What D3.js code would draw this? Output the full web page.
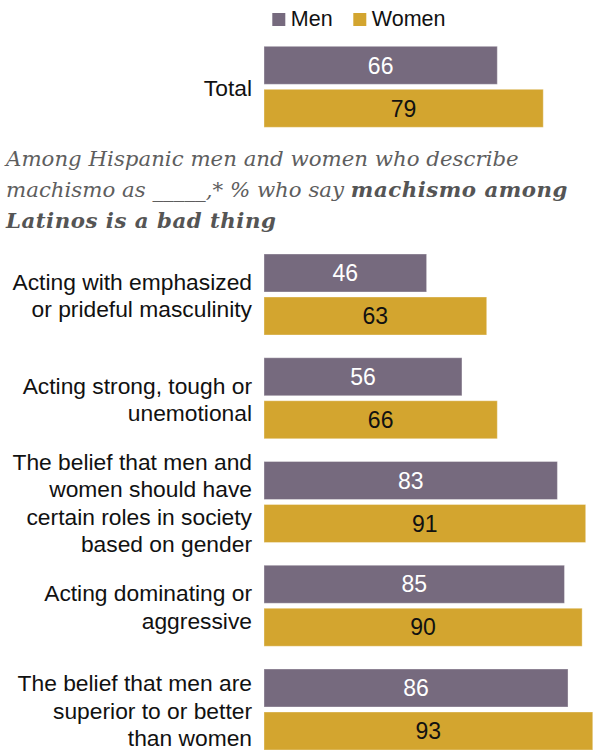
<!DOCTYPE html>
<html>
<head>
<meta charset="utf-8">
<script src="https://cdn.jsdelivr.net/npm/d3@7"></script>
<style>
  html, body { margin: 0; padding: 0; background: #fff; }
  svg { display: block; }
</style>
</head>
<body>
<svg id="chart" width="596" height="751"></svg>
<script>
// Series and categories
const seriesNames = ["Men", "Women"];
const seriesColors = ["#766a7e", "#d3a52f"];
const valueColors = ["#ffffff", "#111111"];

const totalLabel = ["Total"];
const totalValues = [66, 79];

const categoryLabels = [
  ["Acting with emphasized", "or prideful masculinity"],
  ["Acting strong, tough or", "unemotional"],
  ["The belief that men and", "women should have", "certain roles in society", "based on gender"],
  ["Acting dominating or", "aggressive"],
  ["The belief that men are", "superior to or better", "than women"]
];
const menValues = [46, 56, 83, 85, 86];
const womenValues = [63, 66, 91, 90, 93];

const W = 596, H = 751;
const svg = d3.select("#chart");
const sans = "'Liberation Sans', Arial, Helvetica, sans-serif";
const serif = "'DejaVu Serif', Georgia, serif";

// Horizontal value scale
const x = d3.scaleLinear().domain([0, 100]).range([264, 617.5]);

// Vertical layout: one band per category, two bars inside each band
const groupStep = 103.75;
const groupH = 81;
const nCat = categoryLabels.length;
const yCat = d3.scaleBand()
  .domain(d3.range(nCat))
  .range([254, 254 + groupStep * (nCat - 1) + groupH])
  .paddingInner(1 - groupH / groupStep)
  .paddingOuter(0);
const ySeries = d3.scaleBand()
  .domain(seriesNames)
  .range([0, groupH])
  .paddingInner(2 - groupH / 43)
  .paddingOuter(0);

const labelX = 252;
const fontSize = 22.8;
const valueSize = 23;
const lineH = 27.4;
const capH = fontSize * 0.716;

function drawGroup(top, lines, values) {
  const g = svg.append("g").attr("transform", `translate(0,${top})`);
  seriesNames.forEach((s, i) => {
    const yy = ySeries(s);
    g.append("rect")
      .attr("x", x(0))
      .attr("y", yy)
      .attr("width", x(values[i]) - x(0))
      .attr("height", ySeries.bandwidth())
      .attr("fill", seriesColors[i])
      .attr("stroke", "#ffffff")
      .attr("stroke-opacity", 0.35)
      .attr("stroke-width", 1);
    g.append("text")
      .attr("x", (x(0) + x(values[i])) / 2)
      .attr("y", yy + ySeries.bandwidth() / 2 + valueSize * 0.716 / 2)
      .attr("text-anchor", "middle")
      .attr("font-family", sans)
      .attr("font-size", valueSize)
      .attr("fill", valueColors[i])
      .text(values[i]);
  });
  const cy = groupH / 2 + 1;
  const firstBase = cy - (lines.length - 1) * lineH / 2 + capH / 2;
  lines.forEach((ln, k) => {
    g.append("text")
      .attr("x", labelX)
      .attr("y", firstBase + k * lineH)
      .attr("text-anchor", "end")
      .attr("font-family", sans)
      .attr("font-size", fontSize)
      .attr("fill", "#111")
      .text(ln);
  });
}

// Total group
drawGroup(46.3, totalLabel, totalValues);

// Category groups
categoryLabels.forEach((lines, i) => {
  drawGroup(yCat(i), lines, [menValues[i], womenValues[i]]);
});

// Legend
const legend = svg.append("g");
const legendX = [272.3, 353.3];
seriesNames.forEach((s, i) => {
  legend.append("rect")
    .attr("x", legendX[i]).attr("y", 13)
    .attr("width", 13).attr("height", 13)
    .attr("fill", seriesColors[i]);
  legend.append("text")
    .attr("x", legendX[i] + 18.5).attr("y", 26)
    .attr("font-family", sans)
    .attr("font-size", 21.5)
    .attr("fill", "#111")
    .text(s);
});

// Subtitle between the total and the categories
const subtitle = svg.append("g")
  .attr("font-family", serif)
  .attr("font-style", "italic")
  .attr("font-size", 21.3)
  .attr("fill", "#5e5e5e");
const subLines = [
  [["Among Hispanic men and women who describe", false]],
  [["machismo as _____,* % who say ", false], ["machismo among", true]],
  [["Latinos is a bad thing", true]]
];
const subBase = [166, 197, 228];
subLines.forEach((parts, k) => {
  const t = subtitle.append("text").attr("x", 6).attr("y", subBase[k]);
  parts.forEach(([txt, bold]) => {
    t.append("tspan")
      .attr("font-weight", bold ? "bold" : "normal")
      .attr("letter-spacing", bold ? 0.5 : 0)
      .attr("fill", bold ? "#555" : null)
      .text(txt);
  });
});
</script>
</body>
</html>
